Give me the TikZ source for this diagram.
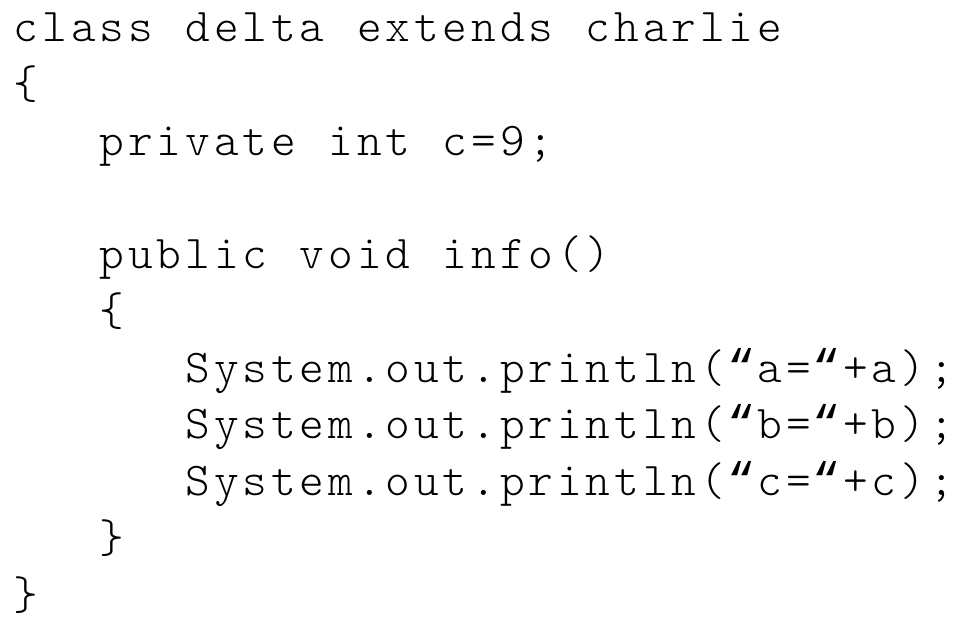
\documentclass[tikz,border=0pt]{standalone}
\usepackage{fontspec}
\newfontfamily\codefont{Latin Modern Mono Light}
\newfontfamily\quotefont{Liberation Mono}
\newlength\cw
\setlength\cw{28.6pt}
\newcommand\cq{{\quotefont “}}
\ExplSyntaxOn
\NewDocumentCommand\mono{m}{\tl_map_inline:nn{#1}{\makebox[\cw][c]{##1}}}
\ExplSyntaxOff
\begin{document}
\begin{tikzpicture}[x=1pt,y=1pt,
  codeline/.style={anchor=base west,inner sep=0pt,outer sep=0pt,font=\codefont\fontsize{47}{56}\selectfont,text=black}]
\useasboundingbox[fill=white] (0,0) rectangle (961,-628);
\def\xa{12}
\def\xb{97.8}
\def\xc{183.6}
\node[codeline] (l0) at (\xa,-42) {\mono{class~delta~extends~charlie}};
\node[codeline] (l1) at (\xa,-98.7) {\makebox[\cw][c]{\{}};
\node[codeline] (l2) at (\xb,-155.4) {\mono{private~int~c=9;}};
\node[codeline] (l4) at (\xb,-268.8) {\mono{public~void~info()}};
\node[codeline] (l5) at (\xb,-325.5) {\makebox[\cw][c]{\{}};
\node[codeline] (l6) at (\xc,-382.2) {\mono{System.out.println(\cq a=\cq +a);}};
\node[codeline] (l7) at (\xc,-438.9) {\mono{System.out.println(\cq b=\cq +b);}};
\node[codeline] (l8) at (\xc,-495.6) {\mono{System.out.println(\cq c=\cq +c);}};
\node[codeline] (l9) at (\xb,-552.3) {\makebox[\cw][c]{\}}};
\node[codeline] (l10) at (\xa,-609) {\makebox[\cw][c]{\}}};
\end{tikzpicture}
\end{document}
